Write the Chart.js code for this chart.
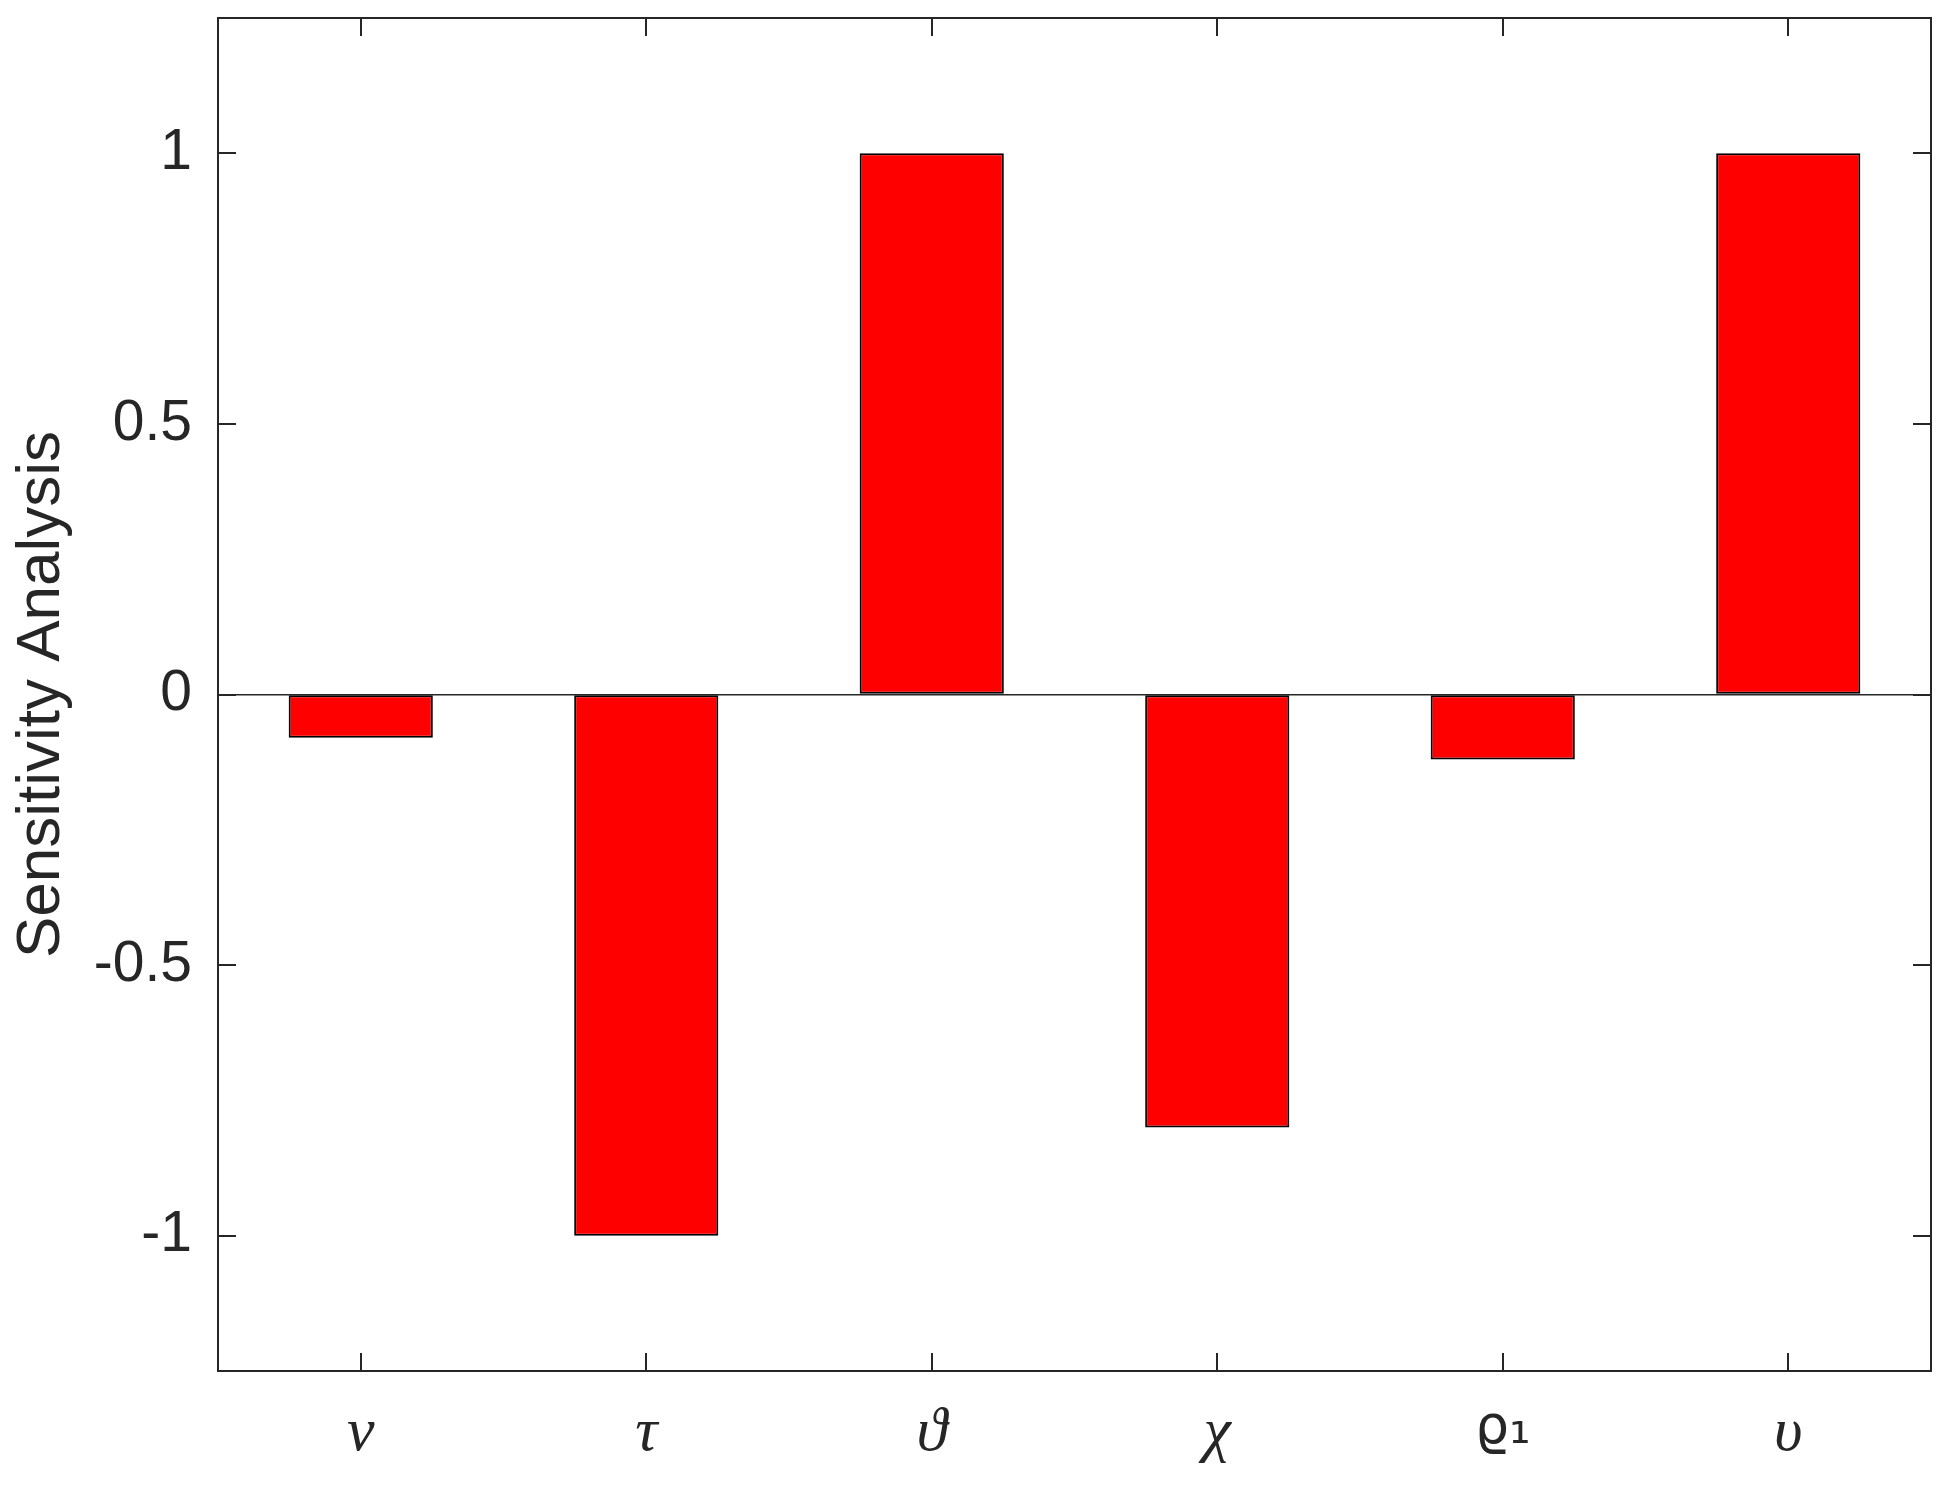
<!DOCTYPE html>
<html>
<head>
<meta charset="utf-8">
<script src="https://cdn.jsdelivr.net/npm/chart.js@4.4.0/dist/chart.umd.min.js"></script>
<style>
  html, body { margin: 0; padding: 0; background: #fff; }
  #wrap { width: 1948px; height: 1492px; }
</style>
</head>
<body>
<div id="wrap"><canvas id="chart" width="1948" height="1492"></canvas></div>
<script>
const categories = ['ν', 'τ', 'ϑ', 'χ', 'ϱ₁', 'υ'];
const sensitivity = [-0.08, -1, 1, -0.8, -0.12, 1];
const yTicks = [-1, -0.5, 0, 0.5, 1];

const axisColor = '#262626';
const tickLen = 18;

// box round the plot + inward ticks on all four sides
const boxTicks = {
  id: 'boxTicks',
  afterDatasetsDraw(chart) {
    const { ctx, chartArea: a, scales: { x, y } } = chart;
    ctx.save();
    ctx.strokeStyle = axisColor;
    ctx.lineWidth = 2;
    ctx.beginPath();
    y.ticks.forEach(t => {
      const py = Math.round(y.getPixelForValue(t.value));
      ctx.moveTo(a.left, py); ctx.lineTo(a.left + tickLen, py);
      ctx.moveTo(a.right, py); ctx.lineTo(a.right - tickLen, py);
    });
    x.ticks.forEach((t, i) => {
      const px = Math.round(x.getPixelForTick(i));
      ctx.moveTo(px, a.bottom); ctx.lineTo(px, a.bottom - tickLen);
      ctx.moveTo(px, a.top); ctx.lineTo(px, a.top + tickLen);
    });
    ctx.stroke();
    ctx.strokeRect(a.left, a.top, a.right - a.left, a.bottom - a.top);
    ctx.restore();
  }
};

new Chart(document.getElementById('chart'), {
  type: 'bar',
  data: {
    labels: categories,
    datasets: [{
      data: sensitivity,
      backgroundColor: '#ff0000',
      borderColor: '#000000',
      borderWidth: 2,
      borderSkipped: false,
      categoryPercentage: 1,
      barPercentage: 0.505
    }]
  },
  options: {
    responsive: false,
    animation: false,
    layout: { padding: { top: 18, right: 17, left: 0, bottom: 0 } },
    plugins: {
      legend: { display: false },
      tooltip: { enabled: false }
    },
    scales: {
      x: {
        offset: true,
        grid: { display: false, drawTicks: false },
        border: { display: false },
        ticks: {
          color: axisColor,
          padding: 26,
          maxRotation: 0,
          font: (ctx) => ctx.index === 4
            ? { family: 'DejaVu Sans, sans-serif', size: 54 }
            : { family: 'Liberation Serif, DejaVu Serif, serif', style: 'italic', size: 62 }
        },
        afterFit: (s) => { s.height = 121; s.paddingLeft = 0; s.paddingRight = 0; }
      },
      y: {
        min: -1.25,
        max: 1.25,
        afterBuildTicks: (s) => { s.ticks = yTicks.map(v => ({ value: v })); },
        grid: {
          drawTicks: false,
          color: (ctx) => ctx.tick && ctx.tick.value === 0 ? axisColor : 'rgba(0,0,0,0)',
          lineWidth: 1.5
        },
        border: { display: false },
        ticks: {
          color: axisColor,
          padding: 26,
          font: { family: 'Liberation Sans, Arial, sans-serif', size: 57 },
          callback: (v) => String(v)
        },
        title: {
          display: true,
          text: 'Sensitivity Analysis',
          color: axisColor,
          font: { family: 'Liberation Sans, Arial, sans-serif', size: 62 },
          padding: { top: 5, bottom: 0 }
        },
        afterFit: (s) => { s.width = 218; s.paddingTop = 0; s.paddingBottom = 0; }
      }
    }
  },
  plugins: [boxTicks]
});
</script>
</body>
</html>
